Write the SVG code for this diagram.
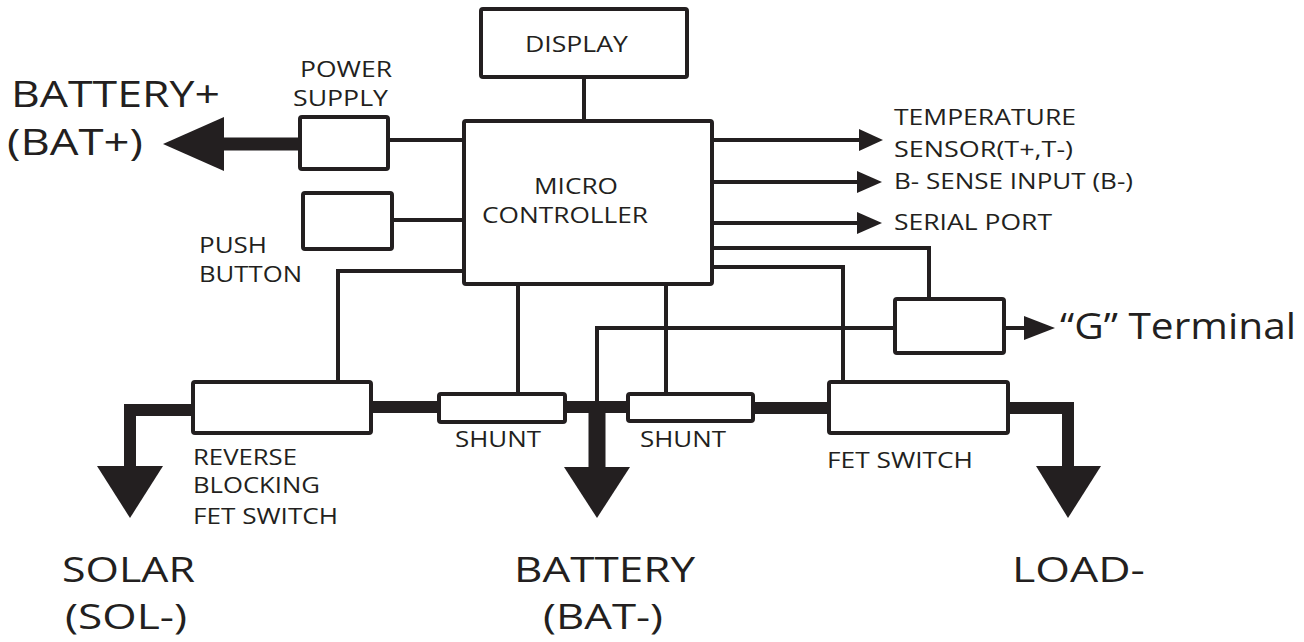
<svg xmlns="http://www.w3.org/2000/svg" width="1304" height="642" viewBox="0 0 1304 642">
<style>
.box{fill:#fff;stroke:#231f20;stroke-width:4;stroke-linejoin:round}
.w{fill:none;stroke:#231f20;stroke-width:4;stroke-linejoin:miter}
.bus{fill:none;stroke:#231f20;stroke-width:12;stroke-linejoin:miter}
.ah{fill:#231f20}
text{font-family:"Open Sans","Liberation Sans",sans-serif;fill:#231f20}
.s{font-size:22px}
.b{font-size:36px}
.bb{font-size:34px}
</style>
<rect width="1304" height="642" fill="#fff"/>
<g id="connectors">
<path class="w" d="M388,140 H464"/>
<path class="w" d="M392,220 H464"/>
<path class="w" d="M584,77 V121"/>
<path class="w" d="M712,140 H862"/>
<path class="w" d="M712,182 H860"/>
<path class="w" d="M712,223 H860"/>
<path class="w" d="M712,248 H929 V299"/>
<path class="w" d="M712,267 H843 V382"/>
<path class="w" d="M464,271 H338 V382"/>
<path class="w" d="M518,284 V394"/>
<path class="w" d="M666,284 V394"/>
<path class="w" d="M597,406 V328 H895"/>
<path class="w" d="M1004,328 H1026"/>
<polygon class="ah" points="859,129 883,140 859,151"/>
<polygon class="ah" points="857,171 882,182 857,193"/>
<polygon class="ah" points="857,212 882,223 857,234"/>
<polygon class="ah" points="1024,316 1055,328 1024,340"/>
<path class="bus" d="M224,144 H300" style="stroke-width:13"/>
<polygon class="ah" points="163,144 224,117 224,171"/>
<path class="bus" d="M193,410 H130 V468"/>
<polygon class="ah" points="97,466 163,466 130,518"/>
<path class="bus" d="M371,407 H439"/>
<path class="bus" d="M565,407 H628"/>
<path class="bus" d="M597,407 V468" style="stroke-width:17"/>
<polygon class="ah" points="564,467 630,467 597,518"/>
<path class="bus" d="M753,408 H829"/>
<path class="bus" d="M1008,408 H1068 V468"/>
<polygon class="ah" points="1036,466 1101,466 1068,518"/>
</g>
<g id="display"><rect class="box" x="481" y="9" width="206" height="68" rx="2"/><text class="s" x="525" y="52" textLength="103" lengthAdjust="spacingAndGlyphs">DISPLAY</text></g>
<g id="microcontroller"><rect class="box" x="464" y="121" width="248" height="163" rx="2"/><text class="s" x="534" y="194" textLength="84" lengthAdjust="spacingAndGlyphs">MICRO</text><text class="s" x="482" y="223" textLength="166" lengthAdjust="spacingAndGlyphs">CONTROLLER</text></g>
<g id="power-supply"><rect class="box" x="300" y="117" width="88" height="52" rx="2"/><text class="s" x="300" y="77" textLength="92" lengthAdjust="spacingAndGlyphs">POWER</text><text class="s" x="293" y="106" textLength="95" lengthAdjust="spacingAndGlyphs">SUPPLY</text></g>
<g id="push-button"><rect class="box" x="303" y="193" width="89" height="56" rx="2"/><text class="s" x="199" y="253" textLength="68" lengthAdjust="spacingAndGlyphs">PUSH</text><text class="s" x="199" y="282" textLength="103" lengthAdjust="spacingAndGlyphs">BUTTON</text></g>
<g id="battery-plus"><text class="b" x="11" y="107" textLength="209" lengthAdjust="spacingAndGlyphs">BATTERY+</text><text class="b" x="7" y="155" textLength="136" lengthAdjust="spacingAndGlyphs">(BAT+)</text></g>
<g id="outputs"><text class="s" x="894" y="125" textLength="182" lengthAdjust="spacingAndGlyphs">TEMPERATURE</text><text class="s" x="894" y="157" textLength="179" lengthAdjust="spacingAndGlyphs">SENSOR(T+,T-)</text><text class="s" x="894" y="189" textLength="239" lengthAdjust="spacingAndGlyphs">B- SENSE INPUT (B-)</text><text class="s" x="894" y="230" textLength="158" lengthAdjust="spacingAndGlyphs">SERIAL PORT</text></g>
<g id="g-terminal"><rect class="box" x="895" y="299" width="109" height="54" rx="2"/><text class="b" x="1060" y="339" textLength="236" lengthAdjust="spacingAndGlyphs">“G” Terminal</text></g>
<g id="reverse-blocking"><rect class="box" x="193" y="382" width="178" height="51" rx="2"/><text class="s" x="193" y="465" textLength="104" lengthAdjust="spacingAndGlyphs">REVERSE</text><text class="s" x="193" y="493" textLength="127" lengthAdjust="spacingAndGlyphs">BLOCKING</text><text class="s" x="193" y="524" textLength="145" lengthAdjust="spacingAndGlyphs">FET SWITCH</text></g>
<g id="shunt1"><rect class="box" x="439" y="394" width="126" height="28" rx="2"/><text class="s" x="455" y="447" textLength="86" lengthAdjust="spacingAndGlyphs">SHUNT</text></g>
<g id="shunt2"><rect class="box" x="628" y="394" width="125" height="27" rx="2"/><text class="s" x="640" y="447" textLength="86" lengthAdjust="spacingAndGlyphs">SHUNT</text></g>
<g id="fet-switch"><rect class="box" x="829" y="382" width="179" height="51" rx="2"/><text class="s" x="827" y="468" textLength="146" lengthAdjust="spacingAndGlyphs">FET SWITCH</text></g>
<g id="solar"><text class="bb" x="62" y="582" textLength="133" lengthAdjust="spacingAndGlyphs">SOLAR</text><text class="bb" x="65" y="629" textLength="122" lengthAdjust="spacingAndGlyphs">(SOL-)</text></g>
<g id="battery-minus"><text class="bb" x="514" y="582" textLength="181" lengthAdjust="spacingAndGlyphs">BATTERY</text><text class="bb" x="543" y="629" textLength="120" lengthAdjust="spacingAndGlyphs">(BAT-)</text></g>
<g id="load"><text class="bb" x="1012" y="582" textLength="133" lengthAdjust="spacingAndGlyphs">LOAD-</text></g>
</svg>
